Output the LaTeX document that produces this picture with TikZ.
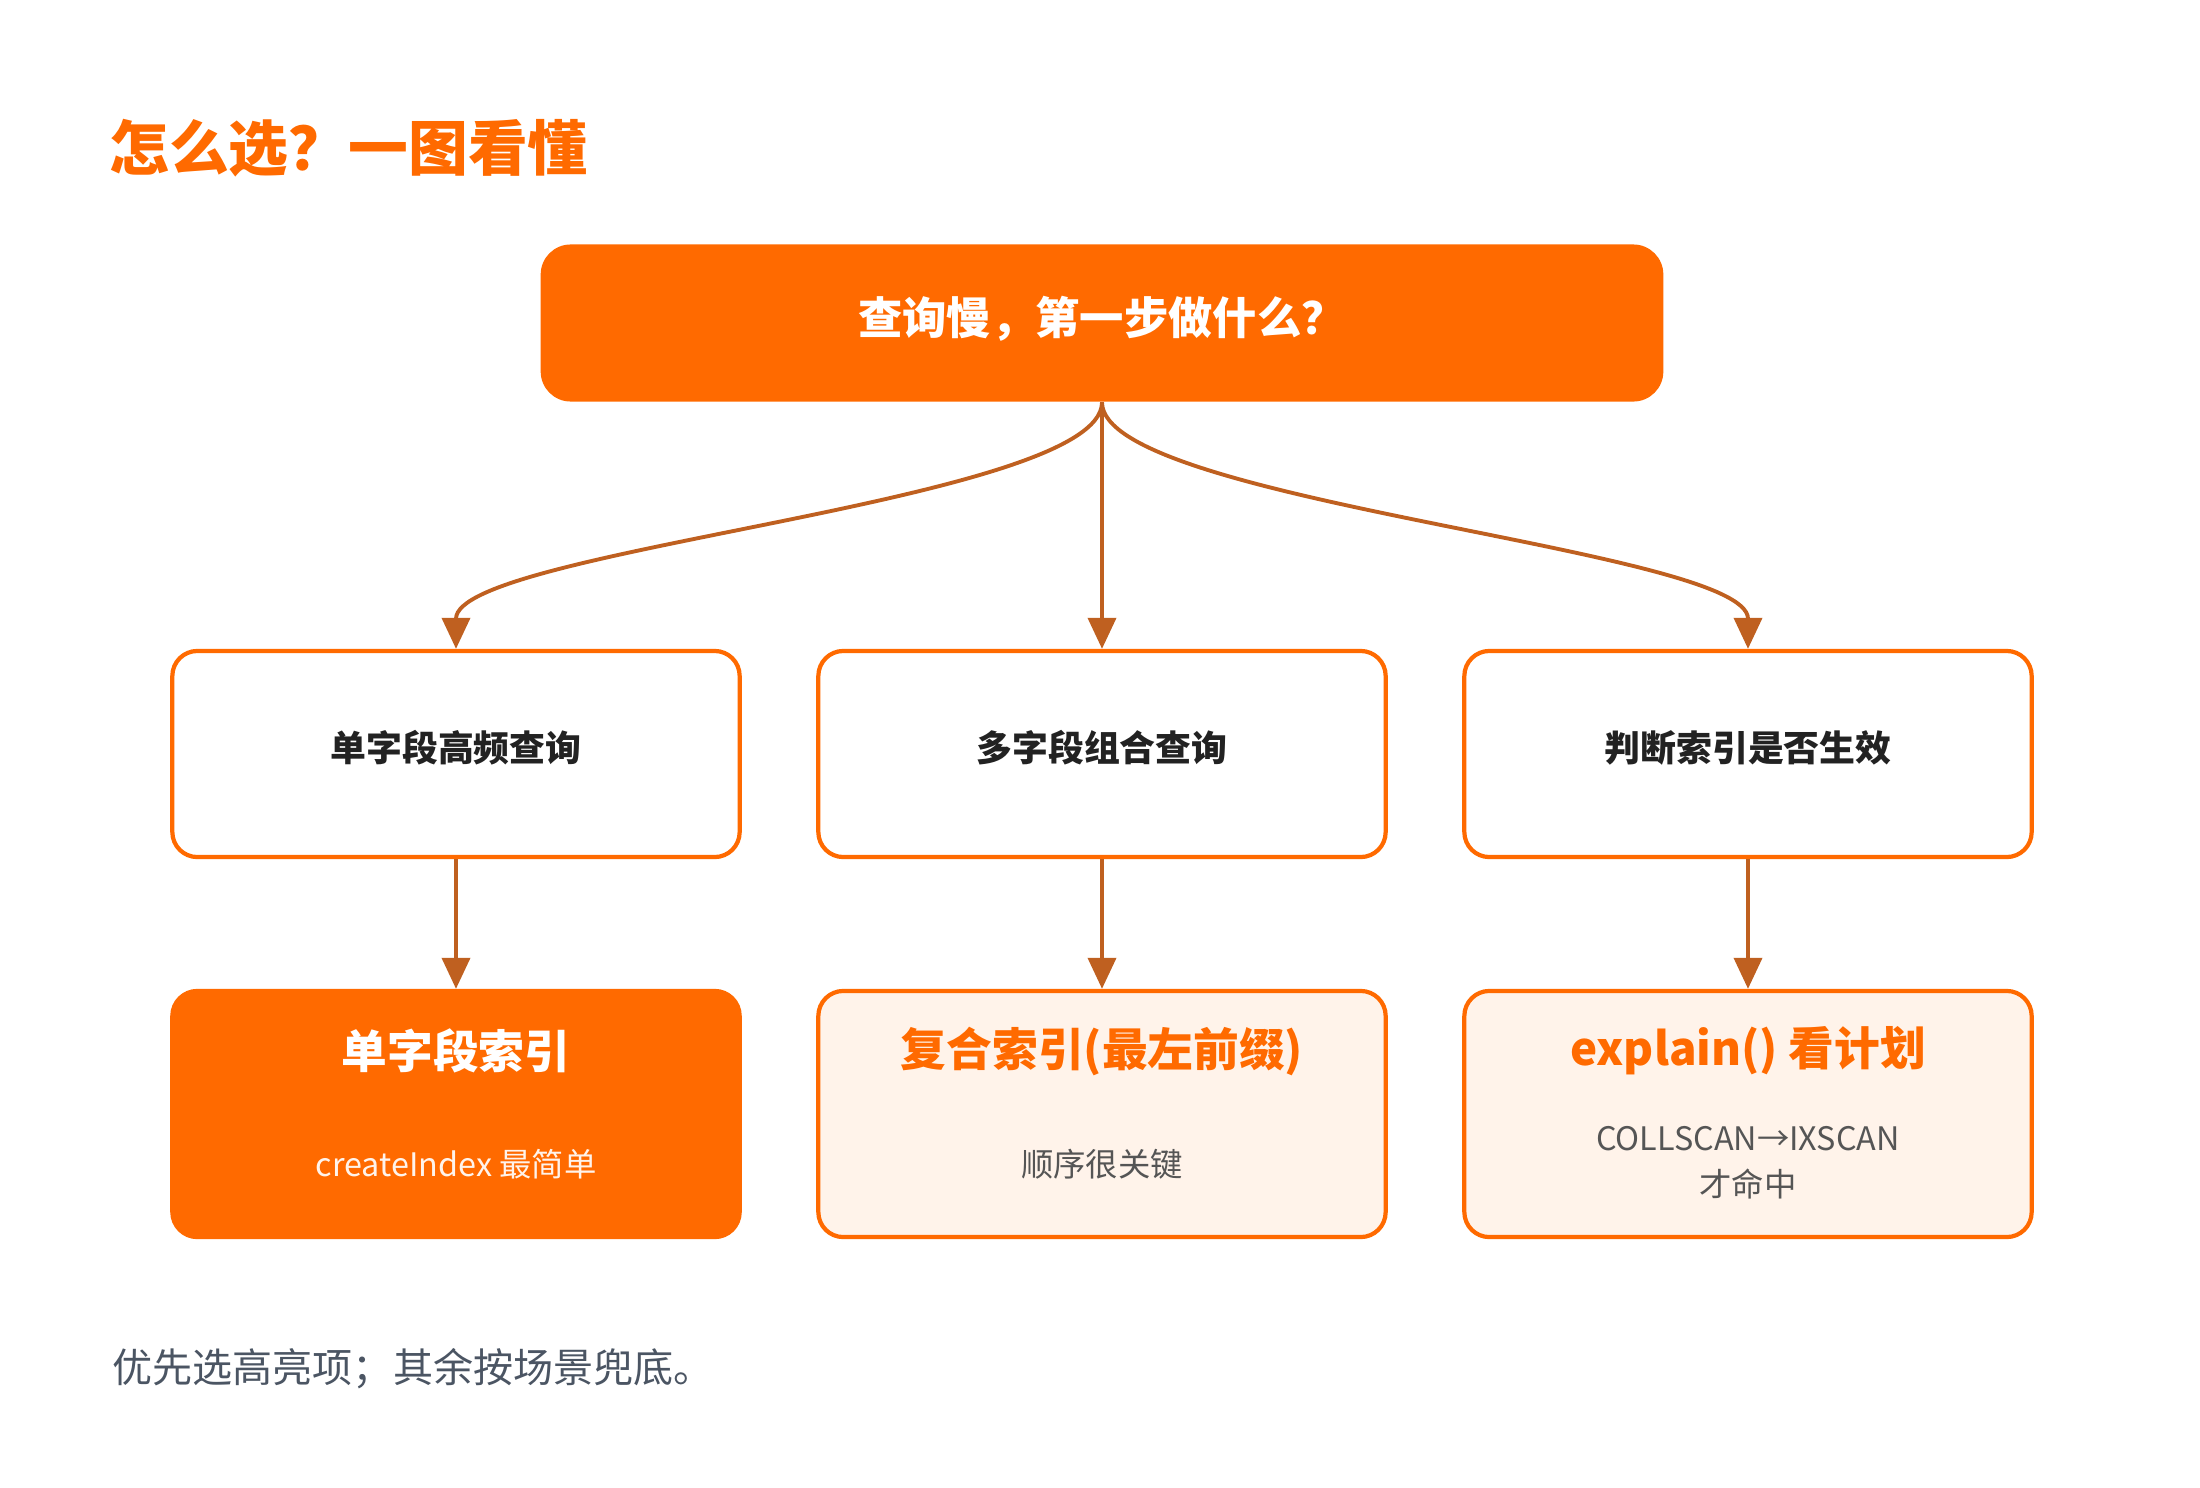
\documentclass[tikz,border=0pt]{standalone}
\usepackage{fontspec}
\setmainfont{Noto Sans CJK SC}
\usetikzlibrary{positioning,arrows.meta}
\definecolor{brand}{HTML}{FF6A00}
\definecolor{linkc}{HTML}{BF6020}
\definecolor{paleo}{HTML}{FFF3EA}
\definecolor{inkc}{HTML}{222222}
\definecolor{subc}{HTML}{555555}
\definecolor{footc}{HTML}{4B5563}

\begin{document}
\begin{tikzpicture}[x=0.01cm,y=-0.01cm,
    box/.style={draw=brand,line width=1.2pt,rounded corners=0.25cm,minimum width=5.67cm,minimum height=2.06cm,fill=white,text=inkc,text depth=0.45em,font=\bfseries\fontsize{10.2}{13}\selectfont},
    pick/.style={draw=brand,line width=1.2pt,rounded corners=0.25cm,minimum width=5.67cm,minimum height=2.46cm,fill=paleo},
    head/.style={text=brand,font=\bfseries\fontsize{13}{16}\selectfont},
    note/.style={text=subc,align=center,font=\fontsize{9.2}{13}\selectfont},
    link/.style={draw=linkc,line width=1.1pt,-{Triangle[length=0.31cm,width=0.28cm]}}]
              \useasboundingbox (0,0) rectangle (2200,1488);
              \node[anchor=west,text=brand,font=\bfseries\fontsize{17}{20}\selectfont] (title) at (97,148) {怎么选？一图看懂};

              \node[fill=brand,rounded corners=0.3cm,minimum width=11.22cm,minimum height=1.57cm,text=white,text depth=0.45em,font=\bfseries\fontsize{12.6}{16}\selectfont] (ask) at (1102,323) {查询慢，第一步做什么？};

              \node[box] (single) at (456,754) {单字段高频查询};
              \node[box] (multi) at (1102,754) {多字段组合查询};
              \node[box] (check) at (1748,754) {判断索引是否生效};

              \node[pick,fill=brand] (idx1) at (456,1114) {};
                \node[head,text=white] (idx1h) at (456,1051) {单字段索引};
                \node[note,text=white!92!brand] (idx1n) at (456,1164) {createIndex 最简单};
              \node[pick] (idx2) at (1102,1114) {};
                \node[head] (idx2h) at (1102,1051) {复合索引(最左前缀)};
                \node[note] (idx2n) at (1102,1164) {顺序很关键};
              \node[pick] (idx3) at (1748,1114) {};
                \node[head] (idx3h) at (1748,1051) {explain() 看计划};
                \node[note] (idx3n) at (1748,1163) {COLLSCAN→IXSCAN\\才命中};

              \draw[link] (ask.south) .. controls +(0,100) and +(0,-100) .. (single.north);
              \draw[link] (ask.south) -- (multi.north);
              \draw[link] (ask.south) .. controls +(0,100) and +(0,-100) .. (check.north);
              \draw[link] (single.south) -- (idx1.north);
              \draw[link] (multi.south) -- (idx2.north);
              \draw[link] (check.south) -- (idx3.north);

              \node[anchor=west,text=footc,font=\fontsize{11.4}{14}\selectfont] (foot) at (100,1369) {优先选高亮项；其余按场景兜底。};
            \end{tikzpicture}
\end{document}
